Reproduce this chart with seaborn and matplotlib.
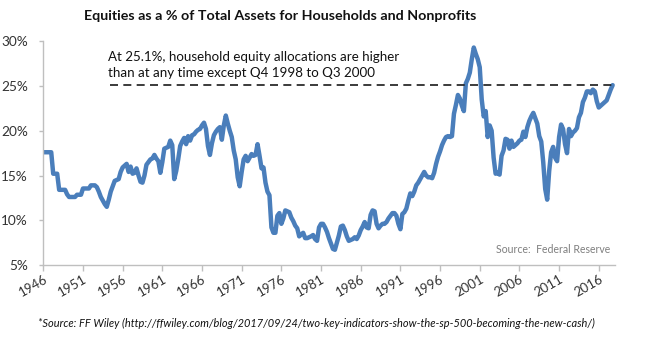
import numpy as np
import pandas as pd
import matplotlib
matplotlib.use("Agg")
import matplotlib.pyplot as plt
import seaborn as sns

# Equities as a share of total assets, households and nonprofits (quarterly, %)
equity_share = [
    17.6, 17.6, 17.6, 17.6,
    17.6, 15.2, 15.2, 15.2,
    13.4, 13.4, 13.4, 13.4,
    12.9, 12.6, 12.6, 12.6,
    12.6, 12.85, 12.85, 12.85,
    13.55, 13.55, 13.55, 13.55,
    13.9, 13.9, 13.9, 13.7,
    13.2, 12.6, 12.2, 11.8,
    11.5, 12.3, 13.2, 13.8,
    14.4, 14.5, 14.6, 15.4,
    15.9, 16.1, 16.3, 15.4,
    16.0, 15.2, 15.3, 15.8,
    15.0, 14.3, 14.2, 15.0,
    16.2, 16.5, 16.8, 16.9,
    17.3, 16.9, 16.6, 15.3,
    16.5, 18.0, 18.1, 18.2,
    18.9, 18.4, 14.6, 15.5,
    16.8, 18.3, 18.8, 19.2,
    18.5, 19.4, 18.9, 19.5,
    19.6, 19.9, 20.1, 20.2,
    20.6, 20.9, 20.2, 18.3,
    17.3, 18.6, 19.5, 19.9,
    20.2, 20.4, 19.0, 20.6,
    21.7, 20.8, 20.0, 19.3,
    17.8, 16.8, 14.8, 13.8,
    15.4, 16.8, 17.2, 16.6,
    17.0, 17.4, 17.2, 17.3,
    18.5, 17.2, 15.8, 15.9,
    14.2, 13.2, 12.8, 9.2,
    8.6, 8.6, 10.5, 10.8,
    9.6, 10.2, 11.1, 11.0,
    10.9, 10.3, 9.9, 9.4,
    9.1, 8.2, 8.4, 8.6,
    8.0, 8.0, 8.1, 8.2,
    8.35, 7.9, 7.7, 9.2,
    9.6, 9.6, 9.2, 8.7,
    8.0, 7.4, 6.8, 6.7,
    7.5, 8.3, 9.3, 9.4,
    8.9, 8.2, 7.7, 7.8,
    7.9, 8.1, 7.9, 8.3,
    8.9, 9.3, 9.8, 9.2,
    9.1, 10.6, 11.1, 11.0,
    9.6, 9.1, 9.4, 9.6,
    9.6, 9.8, 10.2, 10.5,
    10.8, 10.8, 10.5, 9.6,
    9.0, 10.7, 10.9, 11.3,
    12.2, 13.0, 12.7, 13.2,
    13.9, 14.2, 14.6, 15.0,
    15.4, 15.0, 14.8, 14.8,
    14.7, 15.3, 16.3, 17.1,
    17.7, 18.4, 18.9, 19.3,
    19.4, 19.3, 19.4, 21.9,
    22.9, 24.0, 23.6, 22.8,
    22.2, 25.3, 25.8, 26.5,
    28.0, 29.3, 28.6, 28.0,
    27.1, 23.5, 21.6, 22.2,
    19.3, 20.6, 20.0, 17.0,
    15.2, 15.3, 15.1, 17.2,
    17.8, 19.1, 19.0, 18.0,
    18.9, 18.2, 18.4, 18.6,
    18.9, 19.0, 19.9, 19.3,
    20.4, 21.1, 21.6, 22.0,
    21.4, 20.8, 19.4, 18.8,
    16.5, 13.5, 12.3, 15.5,
    17.6, 18.2, 17.0, 16.6,
    19.3, 20.7, 20.2, 18.5,
    17.5, 20.2, 19.4, 19.8,
    20.0, 20.3, 21.5, 22.0,
    23.2, 23.7, 24.4, 24.4,
    24.2, 24.6, 24.4, 23.3,
    22.6, 22.8, 23.0, 23.2,
    23.4, 24.0, 24.6, 25.1,
]

year_labels = ["1946", "1951", "1956", "1961", "1966", "1971", "1976", "1981",
               "1986", "1991", "1996", "2001", "2006", "2011", "2016"]
quarters_per_label = 20

y_ticks = [5, 10, 15, 20, 25, 30]

title = "Equities as a % of Total Assets for Households and Nonprofits"
note = ("At 25.1%, household equity allocations are higher\n"
        "than at any time except Q4 1998 to Q3 2000")
source = "Source:  Federal Reserve"
footer = ("*Source: FF Wiley (http://ffwiley.com/blog/2017/09/24/"
          "two-key-indicators-show-the-sp-500-becoming-the-new-cash/)")

sns.set_style("white")
plt.rcParams["font.family"] = ["Lato", "DejaVu Sans"]

df = pd.DataFrame({"q": np.arange(len(equity_share)), "share": equity_share})

fig = plt.figure(figsize=(6.5, 3.4), dpi=100)
ax = fig.add_axes([0.0666, 0.2206, 0.879, 0.658])

sns.lineplot(data=df, x="q", y="share", ax=ax, color="#4A7EBB",
             linewidth=3.2, solid_joinstyle="round", solid_capstyle="round")

latest = equity_share[-1]
ax.hlines(latest, 33.5, len(equity_share) - 1, colors="#1a1a1a",
          linewidth=1.2, linestyles=(0, (4.8, 3.2)))

ax.text(32.8, 27.35, note, fontsize=9.6, color="#111111", va="center",
        ha="left", linespacing=1.4)
ax.text(len(equity_share) - 2, 6.7, source, fontsize=7.6, color="#7f7f7f",
        ha="right", va="center")

ax.set_xlim(0, 288)
ax.set_ylim(5, 30)
ax.set_yticks(y_ticks)
ax.set_yticklabels([f"{v}%" for v in y_ticks])
xt = [i * quarters_per_label for i in range(len(year_labels))]
ax.set_xticks(xt)
ax.set_xticklabels(year_labels, rotation=30, ha="right",
                   rotation_mode="anchor")
ax.set_xlabel("")
ax.set_ylabel("")

for side in ["top", "right"]:
    ax.spines[side].set_visible(False)
for side in ["left", "bottom"]:
    ax.spines[side].set_color("#bfbfbf")
    ax.spines[side].set_linewidth(1.0)

ax.tick_params(axis="y", which="major", length=3, width=1, color="#bfbfbf",
               labelsize=9.8, labelcolor="#333333", pad=8)
ax.tick_params(axis="x", which="major", length=4, width=1, color="#bfbfbf",
               labelsize=9.5, labelcolor="#333333", pad=2, direction="out")
ax.tick_params(axis="both", left=True, bottom=True)

fig.text(0.431, 0.953, title, fontsize=10.3, fontweight="bold",
         ha="center", va="center", color="#111111")
fig.text(0.058, 0.05, footer, fontsize=7.9, style="italic",
         ha="left", va="center", color="#111111")

fig.savefig("out.png", dpi=100)
